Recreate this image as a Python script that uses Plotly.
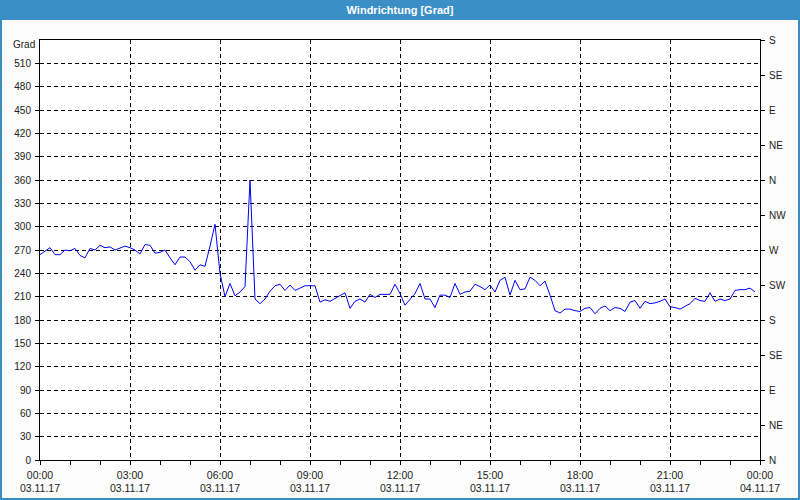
import plotly.graph_objects as go
import pandas as pd

# Wind direction in degrees, one reading every 10 minutes on 03.11.17
wind_dir = [
    264, 269, 273, 264, 264, 270, 269, 272, 263, 260, 272, 270, 276, 273, 274, 270, 273, 275,
    273, 270, 265, 277, 276, 266, 267, 270, 260, 251, 261, 261, 255, 244, 251, 249, 275, 303,
    240, 210, 227, 211, 216, 223, 360, 207, 201, 207, 217, 224, 226, 218, 225, 218, 221, 224,
    224, 224, 203, 206, 204, 208, 212, 215, 195, 204, 207, 203, 213, 209, 213, 213, 213, 226,
    214, 199, 207, 214, 227, 207, 207, 196, 212, 212, 209, 227, 213, 216, 217, 226, 223, 219,
    225, 216, 231, 235, 212, 231, 219, 220, 235, 231, 224, 230, 212, 192, 189, 194, 194, 192,
    191, 195, 196, 188, 195, 198, 192, 196, 195, 191, 203, 205, 195, 204, 201, 202, 204, 207,
    197, 196, 194, 198, 201, 208, 205, 204, 215, 204, 207, 205, 207, 218, 219, 219, 221, 216,
]
times = pd.date_range("2017-11-03 00:00", periods=len(wind_dir), freq="10min")

deg_ticks = list(range(0, 511, 30))
compass_vals = list(range(0, 541, 45))
compass_labels = ["N", "NE", "E", "SE", "S", "SW", "W", "NW", "N", "NE", "E", "SE", "S"]

x_start = "2017-11-03 00:00"
x_end = "2017-11-04 00:00"

W, H = 800, 500
ML, MR, MT, MB = 40, 40, 40, 40
PW, PH = W - ML - MR, H - MT - MB

blue = "#3b8fc7"
font = dict(family="Liberation Sans, Arial, sans-serif", size=10, color="#222222")
xfont = dict(family="Liberation Sans, Arial, sans-serif", size=10.5, color="#222222")

fig = go.Figure()
fig.add_trace(go.Scatter(x=times, y=wind_dir, mode="lines",
                         line=dict(color="#0000ff", width=1), showlegend=False,
                         hoverinfo="x+y"))
# dummy trace for the right axis
fig.add_trace(go.Scatter(x=[times[0]], y=[0], yaxis="y2", mode="markers",
                         marker=dict(opacity=0), showlegend=False, hoverinfo="skip"))

def px_x(p):
    return (p - ML) / PW

def px_y(p):
    return (H - MB - p) / PH

fig.update_layout(
    width=W, height=H,
    margin=dict(l=ML, r=MR, t=MT, b=MB, autoexpand=False),
    paper_bgcolor="#fbfcfb",
    plot_bgcolor="#ffffff",
    font=font,
    title=dict(text="<b>Windrichtung [Grad]</b>", x=0.5, xanchor="center",
               y=1 - 10 / H, yanchor="middle", yref="container",
               font=dict(family="Liberation Sans, Arial, sans-serif", size=11, color="white")),
    xaxis=dict(
        type="date", range=[x_start, x_end], automargin=False,
        tick0=x_start, dtick=3 * 3600 * 1000,
        tickformat="%H:%M<br>%d.%m.%y",
        ticks="outside", ticklen=4, tickcolor="black",
        minor=dict(dtick=3600 * 1000, ticks="outside", ticklen=4, tickcolor="black", showgrid=False),
        showgrid=True, gridcolor="black", gridwidth=1, griddash="4px,3px",
        showline=True, linecolor="black", linewidth=1, mirror=True,
        zeroline=False, tickfont=xfont, ticklabelstandoff=1,
    ),
    yaxis=dict(
        range=[0, 540], tickvals=deg_ticks, automargin=False,
        ticks="outside", ticklen=4, tickcolor="black",
        showgrid=True, gridcolor="black", gridwidth=1, griddash="4px,3px",
        showline=True, linecolor="black", linewidth=1, mirror=True,
        zeroline=False, tickfont=font, ticklabelstandoff=2,
    ),
    yaxis2=dict(
        range=[0, 540], overlaying="y", side="right", automargin=False,
        tickvals=compass_vals, ticktext=compass_labels,
        ticks="outside", ticklen=4, tickcolor="black",
        showgrid=False, showline=True, linecolor="black", linewidth=1,
        zeroline=False, tickfont=font, ticklabelstandoff=2,
    ),
    shapes=[
        dict(type="rect", xref="paper", yref="paper",
             x0=px_x(0), x1=px_x(W), y0=px_y(0), y1=px_y(20),
             fillcolor=blue, line=dict(width=0), layer="below"),
        dict(type="rect", xref="paper", yref="paper",
             x0=px_x(1), x1=px_x(W - 1), y0=px_y(1), y1=px_y(H - 1),
             fillcolor="rgba(0,0,0,0)", line=dict(color=blue, width=2), layer="above"),
    ],
    annotations=[
        dict(text="Grad", xref="paper", yref="paper", x=px_x(37), y=px_y(45),
             xanchor="right", yanchor="middle", showarrow=False, font=font),
    ],
)

fig.write_html("out.html")
